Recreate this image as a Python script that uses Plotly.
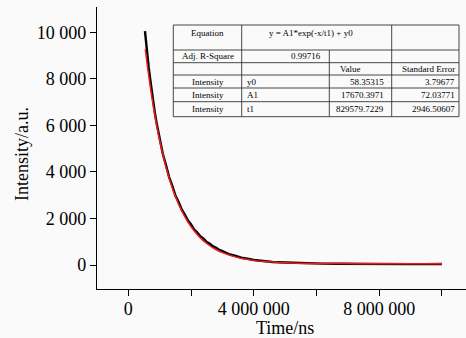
import plotly.graph_objects as go

# ---- data ----
data_time = [0.53e6, 0.56e6, 0.60e6, 0.65e6, 0.70e6, 0.75e6, 0.80e6, 0.85e6, 0.90e6, 0.95e6,
             1.0e6, 1.1e6, 1.2e6, 1.3e6, 1.4e6, 1.5e6, 1.6e6, 1.7e6, 1.8e6, 1.9e6,
             2.0e6, 2.1e6, 2.2e6, 2.3e6, 2.4e6, 2.5e6, 2.6e6, 2.7e6, 2.8e6, 2.9e6,
             3.0e6, 3.2e6, 3.4e6, 3.6e6, 3.8e6, 4.0e6, 4.3e6, 4.6e6, 5.0e6, 5.4e6,
             5.8e6, 6.2e6, 6.6e6, 7.0e6, 7.5e6, 8.0e6, 8.5e6, 9.0e6, 9.5e6, 10.0e6]
data_intensity = [10050, 9600, 9100, 8480, 7960, 7400, 6960, 6500, 6110, 5740,
                  5420, 4770, 4300, 3780, 3410, 2990, 2720, 2390, 2170, 1910,
                  1740, 1520, 1400, 1230, 1130, 990, 910, 800, 740, 650,
                  600, 470, 400, 315, 270, 215, 175, 130, 108, 82,
                  74, 60, 57, 50, 49, 44, 45, 41, 40, 42]

fit_time = [0.54e6, 0.6e6, 0.7e6, 0.8e6, 0.9e6, 1.0e6, 1.2e6, 1.4e6, 1.6e6, 1.8e6,
            2.0e6, 2.25e6, 2.5e6, 2.75e6, 3.0e6, 3.5e6, 4.0e6, 4.5e6, 5.0e6, 6.0e6,
            7.0e6, 8.0e6, 10.0e6]
fit_intensity = [9274, 8632, 7658, 6794, 6029, 5352, 4218, 3325, 2625, 2076,
                 1643, 1231, 926, 699, 533, 318, 200, 136, 101, 71,
                 62, 59, 58]

x_tick_vals = [0, 2e6, 4e6, 6e6, 8e6, 10e6]
x_tick_text = ["0", "", "4 000 000", "", "8 000 000", ""]
y_tick_vals = [0, 2000, 4000, 6000, 8000, 10000]
y_tick_text = ["0", "2 000", "4 000", "6 000", "8 000", "10 000"]

table_rows = [
    ["Equation", "y = A1*exp(-x/t1) + y0", "", ""],
    ["Adj. R-Square", "0.99716", "", ""],
    ["", "", "Value", "Standard Error"],
    ["Intensity", "y0", "58.35315", "3.79677"],
    ["Intensity", "A1", "17670.3971", "72.03771"],
    ["Intensity", "t1", "829579.7229", "2946.50607"],
]

# ---- figure ----
W, H = 466, 338
L, R, T, B = 97, 0, 7, 49
PW, PH = W - L - R, H - T - B

def px(xp):
    return (xp - L) / PW

def py(yp):
    return (H - B - yp) / PH

FONT = "Liberation Serif, Times New Roman, serif"

fig = go.Figure()
fig.add_trace(go.Scatter(x=data_time, y=data_intensity, mode="lines",
                         line=dict(color="black", width=2.4), showlegend=False))
fig.add_trace(go.Scatter(x=fit_time, y=fit_intensity, mode="lines", line_shape="spline",
                         line=dict(color="#ee1c1c", width=1.5), showlegend=False))

axis_common = dict(showline=True, linecolor="black", linewidth=1.3, ticks="outside",
                   ticklen=6, tickwidth=1.3, tickcolor="black", showgrid=False,
                   zeroline=False, mirror=False,
                   tickfont=dict(family=FONT, size=18, color="black"))

fig.update_xaxes(range=[-1.0e6, 10.77e6], tickvals=x_tick_vals, ticktext=x_tick_text,
                 ticklabelstandoff=-3, **axis_common)
fig.update_yaxes(range=[-1030, 11090], tickvals=y_tick_vals, ticktext=y_tick_text,
                 **axis_common)

# table geometry (pixels)
tx0, tx1 = 173.3, 459
ty0, ty1 = 25, 116.7
hlines = [50, 62.7, 75, 88, 101.7]
c1, c2, c3 = 241.7, 329.3, 391.7
shapes = []
lw = dict(color="#333333", width=0.9)
shapes.append(dict(type="rect", xref="paper", yref="paper", x0=px(tx0), x1=px(tx1),
                   y0=py(ty1), y1=py(ty0), line=lw))
for yy in hlines:
    shapes.append(dict(type="line", xref="paper", yref="paper", x0=px(tx0), x1=px(tx1),
                       y0=py(yy), y1=py(yy), line=lw))
for xx, ya in [(c1, ty0), (c2, 50), (c3, ty0)]:
    shapes.append(dict(type="line", xref="paper", yref="paper", x0=px(xx), x1=px(xx),
                       y0=py(ty1), y1=py(ya), line=lw))

row_y = [33, 56.5, 69, 81.5, 95, 108.8]
col_pos = [((tx0 + c1) / 2, "center"), (245, "left"), (386, "right"), (457, "right")]
annotations = []
for r, row in enumerate(table_rows):
    for c, txt in enumerate(row):
        if not txt:
            continue
        xpos, anchor = col_pos[c]
        if r == 0 and c == 1:
            xpos, anchor = 311, "center"
        if r == 1 and c == 1:
            xpos, anchor = 323, "right"
        if r == 2 and c == 2:
            xpos, anchor = 338, "left"
        if r == 2 and c == 3:
            xpos, anchor = 400, "left"
        annotations.append(dict(text=txt, xref="paper", yref="paper", x=px(xpos), y=py(row_y[r]),
                                xanchor=anchor, yanchor="middle", showarrow=False,
                                font=dict(family=FONT, size=9, color="black")))

annotations.append(dict(text="Intensity/a.u.", xref="paper", yref="paper", x=px(22), y=py(154),
                        textangle=-90, xanchor="center", yanchor="middle", showarrow=False,
                        font=dict(family=FONT, size=18, color="black")))
annotations.append(dict(text="Time/ns", xref="paper", yref="paper", x=px(285), y=py(328),
                        xanchor="center", yanchor="middle", showarrow=False,
                        font=dict(family=FONT, size=18, color="black")))

fig.update_layout(width=W, height=H, margin=dict(l=L, r=R, t=T, b=B, pad=0),
                  paper_bgcolor="#fafafa", plot_bgcolor="#fafafa",
                  shapes=shapes, annotations=annotations)

fig.write_html("out.html", config={"displayModeBar": False},
               post_script="document.body.style.margin='0px';document.body.style.background='#fafafa';")
